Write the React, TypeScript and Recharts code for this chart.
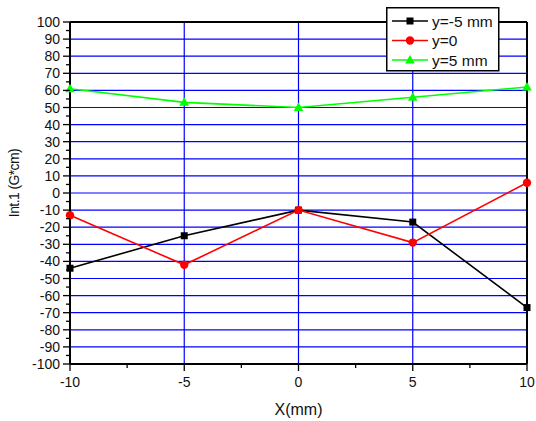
import React from "react";
import {
  LineChart,
  Line,
  XAxis,
  YAxis,
  CartesianGrid,
  Legend,
  ReferenceLine,
} from "recharts";

const X_MM = [-10, -5, 0, 5, 10];
const INT_Y_NEG5 = [-44, -25, -10, -17, -67];
const INT_Y_ZERO = [-13, -42, -10, -29, 6];
const INT_Y_POS5 = [61, 53, 50, 56, 62];

const X_TICKS = [-10, -5, 0, 5, 10];
const Y_TICKS = [
  -100, -90, -80, -70, -60, -50, -40, -30, -20, -10, 0, 10, 20, 30, 40, 50, 60, 70, 80, 90, 100,
];

const X_MIN = -10;
const X_MAX = 10;
const Y_MIN = -100;
const Y_MAX = 100;

const FONT = "'Liberation Sans', Arial, Helvetica, sans-serif";
const GRID_BLUE = "#0000ff";

// minor ticks sit halfway between the labelled ones
const withMinor = (major: number[]) =>
  major.flatMap((v, i) => (i < major.length - 1 ? [v, (v + major[i + 1]) / 2] : [v]));

const X_ALL_TICKS = withMinor(X_TICKS);
const Y_ALL_TICKS = withMinor(Y_TICKS);

const SERIES = [
  { key: "neg5", name: "y=-5 mm", color: "#000000", shape: "square" },
  { key: "zero", name: "y=0", color: "#ff0000", shape: "circle" },
  { key: "pos5", name: "y=5 mm", color: "#00ff00", shape: "triangle" },
];

const data = X_MM.map((x, i) => ({
  x,
  neg5: INT_Y_NEG5[i],
  zero: INT_Y_ZERO[i],
  pos5: INT_Y_POS5[i],
}));

function Marker({ cx, cy, shape, color }: { cx: number; cy: number; shape: string; color: string }) {
  if (shape === "square") {
    return <rect x={cx - 3.5} y={cy - 3.5} width={7} height={7} fill={color} />;
  }
  if (shape === "circle") {
    return <circle cx={cx} cy={cy} r={4.2} fill={color} />;
  }
  return (
    <polygon
      points={`${cx},${cy - 5} ${cx - 4.8},${cy + 3.5} ${cx + 4.8},${cy + 3.5}`}
      fill={color}
    />
  );
}

function YTick(props: any) {
  const { x, y, payload } = props;
  const major = Y_TICKS.includes(payload.value);
  return (
    <g>
      <line x1={x - (major ? 7 : 4)} x2={x} y1={y} y2={y} stroke="#000" strokeWidth={1.3} />
      {major && (
        <text x={x - 10} y={y + 5} textAnchor="end" fontSize={14} fontFamily={FONT} fill="#111">
          {payload.value}
        </text>
      )}
    </g>
  );
}

function XTick(props: any) {
  const { x, y, payload } = props;
  const major = X_TICKS.includes(payload.value);
  return (
    <g>
      <line x1={x} x2={x} y1={y} y2={y + (major ? 7 : 4)} stroke="#000" strokeWidth={1.3} />
      {major && (
        <text x={x} y={y + 23} textAnchor="middle" fontSize={14} fontFamily={FONT} fill="#111">
          {payload.value}
        </text>
      )}
    </g>
  );
}

function LegendBox() {
  return (
    <svg width={114} height={65} style={{ display: "block" }}>
      <rect x={0.75} y={0.75} width={112} height={63} fill="#fff" stroke="#000" strokeWidth={1.5} />
      {SERIES.map((s, i) => {
        const cy = 14 + i * 19.5;
        return (
          <g key={s.key}>
            <line x1={6} x2={42} y1={cy} y2={cy} stroke={s.color} strokeWidth={1.5} />
            <Marker cx={24} cy={cy} shape={s.shape} color={s.color} />
            <text x={46} y={cy + 5.5} fontSize={15.5} fontFamily={FONT} fill="#111">
              {s.name}
            </text>
          </g>
        );
      })}
    </svg>
  );
}

export default function App() {
  return (
    <div style={{ position: "absolute", left: 0, top: 0, width: 536, height: 421, background: "#fff" }}>
      <LineChart
        width={536}
        height={421}
        data={data}
        margin={{ top: 22, right: 9, left: 0, bottom: 0 }}
      >
        <CartesianGrid
          stroke={GRID_BLUE}
          strokeWidth={1.2}
          horizontalCoordinatesGenerator={({ offset }: any) =>
            Y_TICKS.map((v) => offset.top + ((Y_MAX - v) / (Y_MAX - Y_MIN)) * offset.height)
          }
          verticalCoordinatesGenerator={({ offset }: any) =>
            X_TICKS.map((v) => offset.left + ((v - X_MIN) / (X_MAX - X_MIN)) * offset.width)
          }
        />
        <XAxis
          dataKey="x"
          type="number"
          domain={[X_MIN, X_MAX]}
          ticks={X_ALL_TICKS}
          interval={0}
          tickSize={0}
          tickMargin={0}
          tickLine={false}
          tick={<XTick />}
          height={57}
          axisLine={{ stroke: "#000", strokeWidth: 2 }}
          label={{
            value: "X(mm)",
            position: "insideBottom",
            offset: 6,
            fontSize: 16,
            fontFamily: FONT,
            fill: "#111",
          }}
        />
        <YAxis
          type="number"
          domain={[Y_MIN, Y_MAX]}
          ticks={Y_ALL_TICKS}
          interval={0}
          tickSize={0}
          tickMargin={0}
          tickLine={false}
          tick={<YTick />}
          width={70}
          axisLine={{ stroke: "#000", strokeWidth: 2 }}
          label={{
            value: "Int.1 (G*cm)",
            angle: -90,
            position: "insideLeft",
            dx: 9,
            dy: -10,
            fontSize: 14,
            fontFamily: FONT,
            fill: "#111",
            style: { textAnchor: "middle", letterSpacing: "-0.6px" },
          }}
        />
        <ReferenceLine y={Y_MAX} stroke="#000" strokeWidth={2} />
        <ReferenceLine x={X_MAX} stroke="#000" strokeWidth={2} />
        {SERIES.map((s) => (
          <Line
            key={s.key}
            dataKey={s.key}
            name={s.name}
            stroke={s.color}
            strokeWidth={1.6}
            isAnimationActive={false}
            dot={(p: any) => (
              <Marker key={`${s.key}-${p.index}`} cx={p.cx} cy={p.cy} shape={s.shape} color={s.color} />
            )}
            activeDot={false}
          />
        ))}
        <Legend
          layout="horizontal"
          verticalAlign="middle"
          align="center"
          content={() => <LegendBox />}
          wrapperStyle={{ left: 386, top: 7, width: 114, height: 65 }}
        />
      </LineChart>
    </div>
  );
}
